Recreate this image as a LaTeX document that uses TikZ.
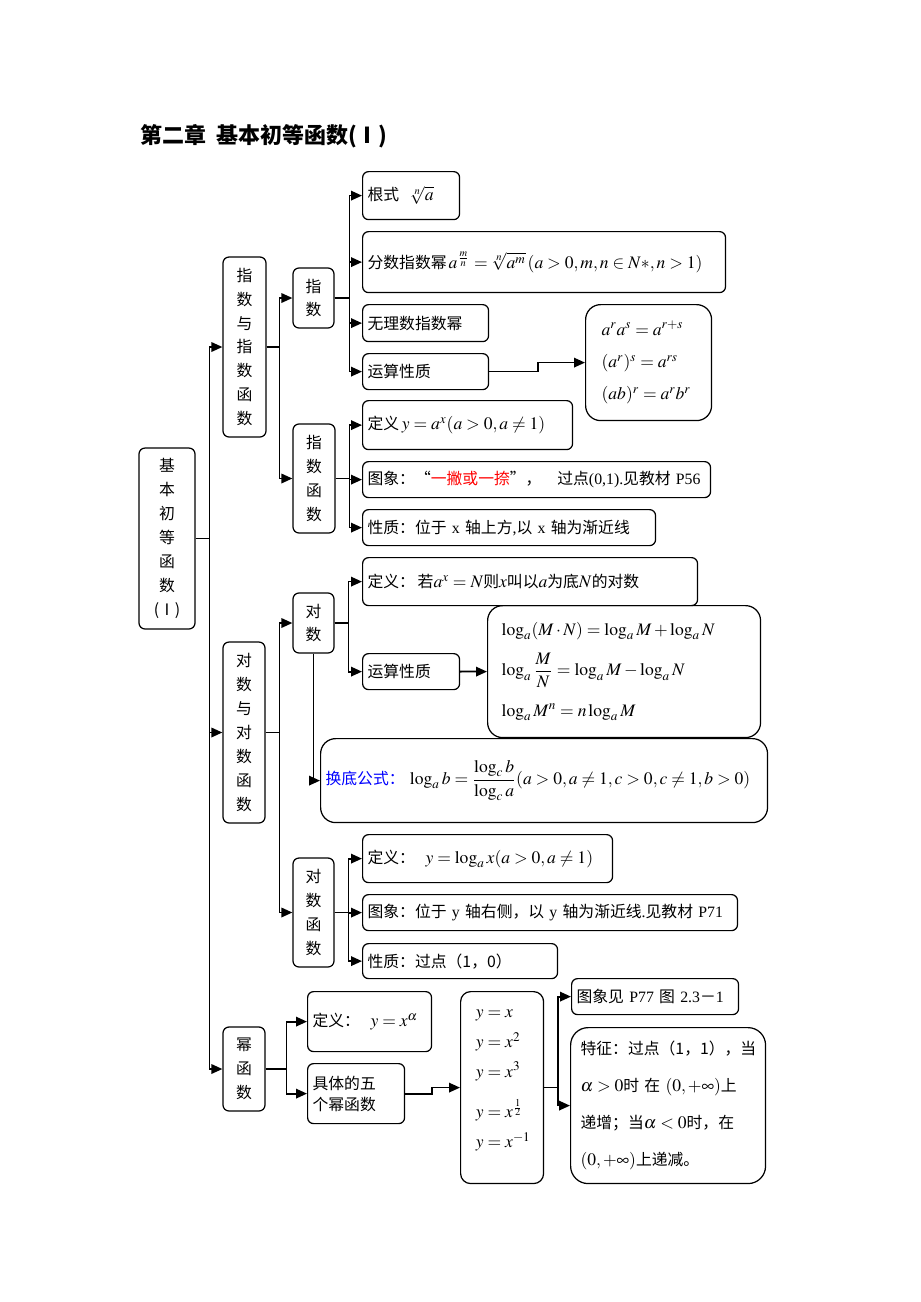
\documentclass[tikz,border=0pt]{standalone}
\usepackage{mathptmx}
\usepackage[no-math]{fontspec}
\setmainfont{Noto Sans CJK SC}
\newfontfamily\tm{Liberation Serif}
\DeclareMathSizes{9}{10}{7.5}{6}
\usetikzlibrary{arrows.meta}
\begin{document}
\begin{tikzpicture}[x=0.02cm,y=-0.02cm,
  every node/.style={font=\fontsize{9}{12}\selectfont},
  bx/.style 2 args={draw,rounded corners=0.12cm,line width=0.7pt,anchor=north west,inner xsep=0.1cm,inner ysep=0pt,align=left,text width=#1,minimum height=#2},
  vb/.style 2 args={draw,rounded corners=0.12cm,line width=0.7pt,align=center,inner sep=0pt,minimum width=#1,minimum height=#2,font=\fontsize{9}{13.6}\selectfont},
  arr/.style={line width=1pt,-{Triangle[length=0.22cm,width=0.19cm]}}]
  \useasboundingbox (0,0) rectangle (920,1302);
  \node[anchor=west,inner sep=0pt,font=\fontsize{12.5}{14}\selectfont\bfseries] (title) at (140,136) {第二章\ \ 基本初等函数(Ⅰ)};
  \node[vb={1.12cm}{3.62cm}] (root) at (167,538.5) {基\\本\\初\\等\\函\\数\\(Ⅰ)};
  \node[vb={0.86cm}{3.6cm}] (zs) at (244.5,347) {指\\数\\与\\指\\数\\函\\数};
  \node[vb={0.82cm}{1.2cm}] (zshu) at (313.5,298) {指\\数};
  \node[vb={0.84cm}{2.18cm}] (zhs) at (314,478.5) {指\\数\\函\\数};
  \node[vb={0.84cm}{3.62cm}] (dsf) at (244,732.5) {对\\数\\与\\对\\数\\函\\数};
  \node[vb={0.82cm}{1.2cm}] (ds) at (313.5,623) {对\\数};
  \node[vb={0.82cm}{2.18cm}] (dhs) at (313.5,912.5) {对\\数\\函\\数};
  \node[vb={0.84cm}{1.68cm}] (mhs) at (244,1069) {幂\\函\\数};
  \node[bx={1.74cm}{0.96cm}] (gs) at (362,171) {根式\ \ $\sqrt[n]{a}$};
  \node[bx={7.06cm}{1.22cm}] (fs) at (362,231) {分数指数幂$\,a^{\frac{m}{n}}=\sqrt[n]{a^m}\,(a>0,m,n\in N*,n>1)$};
  \node[bx={2.32cm}{0.74cm}] (wl) at (362,304) {无理数指数幂};
  \node[bx={2.32cm}{0.72cm}] (ys1) at (362,353) {运算性质};
  \node[bx={1.88cm}{2.32cm},inner xsep=0.32cm,rounded corners=0.3cm,font=\fontsize{9}{18.4}\selectfont] (zr) at (585,304) {$a^ra^s=a^{r+s}$\\$(a^r)^s=a^{rs}$\\$(ab)^r=a^rb^r$};
  \node[bx={4.0cm}{0.98cm}] (zdy) at (362,400) {定义\,$y=a^x(a>0,a\neq1)$};
  \node[bx={6.76cm}{0.72cm}] (ztx) at (362,461) {图象：“{\color{red}一撇或一捺}”，\ \ \ 过点{\tm (0,1).}见教材 {\tm P56}};
  \node[bx={5.66cm}{0.72cm}] (zxz) at (362,509) {性质：位于 {\tm x} 轴上方{\tm ,}以 {\tm x} 轴为渐近线};
  \node[bx={6.5cm}{0.96cm}] (ddy) at (362,557) {定义：\,若$a^x=N$则$x$叫以$a$为底$N$的对数};
  \node[bx={1.74cm}{0.72cm}] (ys2) at (362,653) {运算性质};
  \node[bx={4.9cm}{2.64cm},inner xsep=0.28cm,rounded corners=0.3cm,font=\fontsize{9}{23}\selectfont] (dr) at (487,605) {$\log_a(M\cdot N)=\log_a M+\log_a N$\\$\log_a{\displaystyle\frac{M}{N}}=\log_a M-\log_a N$\\$\log_a M^n=n\log_a M$};
  \node[bx={8.74cm}{1.68cm},rounded corners=0.3cm] (hd) at (320,738) {{\color{blue}换底公式：}\ $\log_a b={\displaystyle\frac{\log_c b}{\log_c a}}(a>0,a\neq1,c>0,c\neq1,b>0)$};
  \node[bx={4.8cm}{0.96cm}] (hdy) at (362,834) {定义：\ \ $y=\log_a x(a>0,a\neq1)$};
  \node[bx={7.3cm}{0.72cm}] (htx) at (362,894) {图象：位于 {\tm y} 轴右侧，以 {\tm y} 轴为渐近线{\tm .}见教材 {\tm P71}};
  \node[bx={3.7cm}{0.7cm}] (hxz) at (362,943) {性质：过点（1，0）};
  \node[bx={2.28cm}{1.2cm}] (mdy) at (307,991) {定义：\ \ $y=x^{\alpha}$};
  \node[bx={1.74cm}{1.2cm}] (mjt) at (307,1063) {具体的五\\个幂函数};
  \node[bx={1.26cm}{3.84cm},inner xsep=0.2cm,rounded corners=0.2cm,font=\fontsize{9}{17}\selectfont] (mwu) at (460,991) {\ $y=x$\\\ $y=x^2$\\\ $y=x^3$\\[6pt]\ $y=x^{\frac{1}{2}}$\\\ \mbox{$y=x^{-1}$}\\[-7pt]\mbox{}};
  \node[bx={3.14cm}{0.72cm}] (mtx) at (571,978) {图象见 {\tm P77} 图 {\tm 2.3}－{\tm 1}};
  \node[bx={3.5cm}{3.12cm},inner xsep=0.2cm,rounded corners=0.35cm,font=\fontsize{9}{21}\selectfont] (mtz) at (570,1027) {特征：过点（1，1），当\\$\alpha>0$时 在 $(0,+\infty)$上\\递增；当$\alpha<0$时，在\\$(0,+\infty)$上递减。};
  \draw[arr] (root.east) -- ++(14,0) |- (zs.west);
  \draw[arr] (root.east) -- ++(14,0) |- (dsf.west);
  \draw[arr] (root.east) -- ++(14,0) |- (mhs.west);
  \draw[arr] (zs.east) -- ++(13,0) |- (zshu.west);
  \draw[arr] (zs.east) -- ++(13,0) |- (zhs.west);
  \draw[arr] (zshu.east) -- ++(15,0) |- (gs.west);
  \draw[arr] (zshu.east) -- ++(15,0) |- (fs.west);
  \draw[arr] (zshu.east) -- ++(15,0) |- (wl.west);
  \draw[arr] (zshu.east) -- ++(15,0) |- (ys1.west);
  \draw[arr] (ys1.east) -- ++(49,0) |- (zr.west);
  \draw[arr] (zhs.east) -- ++(14,0) |- (zdy.west);
  \draw[arr] (zhs.east) -- ++(14,0) |- (ztx.west);
  \draw[arr] (zhs.east) -- ++(14,0) |- (zxz.west);
  \draw[arr] (dsf.east) -- ++(14,0) |- (ds.west);
  \draw[arr] (dsf.east) -- ++(14,0) |- (dhs.west);
  \draw[arr] (ds.east) -- ++(14,0) |- (ddy.west);
  \draw[arr] (ds.east) -- ++(14,0) |- (ys2.west);
  \draw[arr] (ys2.east) -- (dr.west);
  \draw[arr] (ds.south) |- (hd.west);
  \draw[arr] (dhs.east) -- ++(14,0) |- (hdy.west);
  \draw[arr] (dhs.east) -- ++(14,0) |- (htx.west);
  \draw[arr] (dhs.east) -- ++(14,0) |- (hxz.west);
  \draw[arr] (mhs.east) -- ++(21,0) |- (mdy.west);
  \draw[arr] (mhs.east) -- ++(21,0) |- (mjt.west);
  \draw[arr] (mjt.east) -- ++(27,0) |- (mwu.west);
  \draw[arr] (mwu.east) -- ++(14,0) |- (mtx.west);
  \draw[arr] (mwu.east) -- ++(14,0) |- (mtz.west);
\end{tikzpicture}
\end{document}
